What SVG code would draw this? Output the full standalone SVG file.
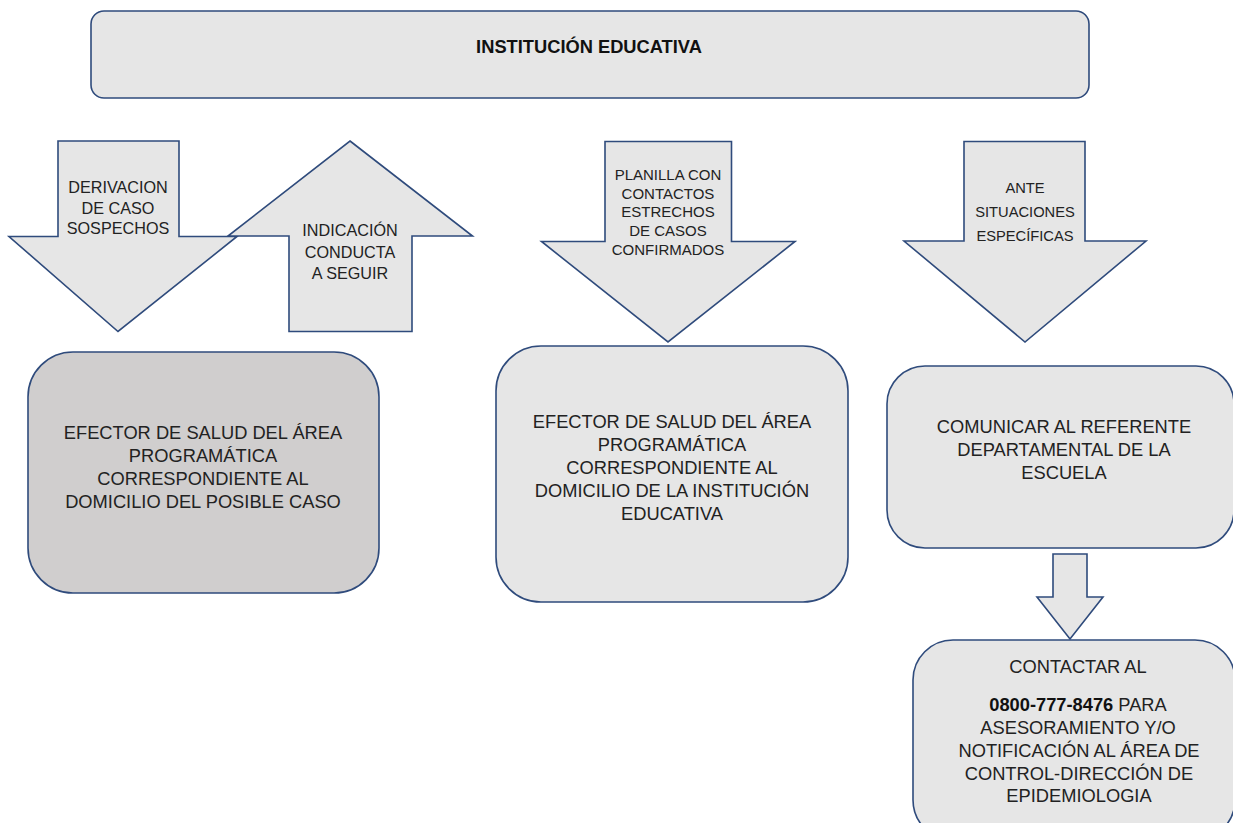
<svg xmlns="http://www.w3.org/2000/svg" width="1233" height="823" viewBox="0 0 1233 823">
<style>
.shape{fill:#e6e6e6;stroke:#2f4b7c;stroke-width:1.6;stroke-linejoin:miter}
.dark{fill:#d0cece}
text{font-family:"Liberation Sans",Arial,sans-serif;fill:#222;text-anchor:middle}
.t18{font-size:18.3px}
.t16{font-size:16.2px}
.t15{font-size:15px}
.t14{font-size:14.7px}
.b{font-weight:bold;fill:#111}
</style>
<rect width="1233" height="823" fill="#fff"/>
<g id="institucion">
<rect class="shape" x="91" y="11" width="998" height="87" rx="13"/>
<text class="t18 b" x="589" y="53">INSTITUCIÓN EDUCATIVA</text>
</g>
<g id="connectors">
<g id="arrow-derivacion">
<polygon class="shape" points="58,141 179,141 179,236.5 237,236.5 118,331.5 9,236.5 58,236.5"/>
<text class="t16" x="118" y="193">DERIVACION</text>
<text class="t16" x="118" y="213.5">DE CASO</text>
<text class="t16" x="118" y="234">SOSPECHOS</text>
</g>
<g id="arrow-indicacion">
<polygon class="shape" points="350,141 472.5,236 412,236 412,331.5 289,331.5 289,236 228,236"/>
<text class="t16" x="350" y="236">INDICACIÓN</text>
<text class="t16" x="350" y="257.5">CONDUCTA</text>
<text class="t16" x="350" y="279">A SEGUIR</text>
</g>
<g id="arrow-planilla">
<polygon class="shape" points="605,141.5 731.5,141.5 731.5,241.5 795,241.5 668,342 541.5,241.5 605,241.5"/>
<text class="t15" x="668" y="180">PLANILLA CON</text>
<text class="t15" x="668" y="198.5">CONTACTOS</text>
<text class="t15" x="668" y="217">ESTRECHOS</text>
<text class="t15" x="668" y="236">DE CASOS</text>
<text class="t15" x="668" y="254.5">CONFIRMADOS</text>
</g>
<g id="arrow-situaciones">
<polygon class="shape" points="964,141.5 1085,141.5 1085,241 1146,241 1025,342 904,241 964,241"/>
<text class="t14" x="1025" y="193">ANTE</text>
<text class="t14" x="1025" y="217">SITUACIONES</text>
<text class="t14" x="1025" y="241">ESPECÍFICAS</text>
</g>
<g id="arrow-contactar">
<polygon class="shape" points="1053,554 1087,554 1087,597 1103,597 1070,639 1037,597 1053,597"/>
</g>
</g>
<g id="efector-posible-caso">
<rect class="shape dark" x="28" y="352" width="351" height="241" rx="45"/>
<text class="t18" x="203" y="439">EFECTOR DE SALUD DEL ÁREA</text>
<text class="t18" x="203" y="462">PROGRAMÁTICA</text>
<text class="t18" x="203" y="485">CORRESPONDIENTE AL</text>
<text class="t18" x="203" y="508">DOMICILIO DEL POSIBLE CASO</text>
</g>
<g id="efector-institucion">
<rect class="shape" x="496" y="346" width="352" height="256" rx="45"/>
<text class="t18" x="672" y="428">EFECTOR DE SALUD DEL ÁREA</text>
<text class="t18" x="672" y="451">PROGRAMÁTICA</text>
<text class="t18" x="672" y="474">CORRESPONDIENTE AL</text>
<text class="t18" x="672" y="497">DOMICILIO DE LA INSTITUCIÓN</text>
<text class="t18" x="672" y="520">EDUCATIVA</text>
</g>
<g id="comunicar-referente">
<rect class="shape" x="887" y="366" width="347" height="182" rx="38"/>
<text class="t18" x="1064" y="433">COMUNICAR AL REFERENTE</text>
<text class="t18" x="1064" y="456">DEPARTAMENTAL DE LA</text>
<text class="t18" x="1064" y="479">ESCUELA</text>
</g>
<g id="contactar">
<rect class="shape" x="913" y="640" width="322" height="200" rx="40"/>
<text class="t18" x="1078" y="673">CONTACTAR AL</text>
<text class="t18" x="1078" y="711"><tspan class="b">0800-777-8476</tspan> PARA</text>
<text class="t18" x="1078" y="734">ASESORAMIENTO Y/O</text>
<text class="t18" x="1079" y="757">NOTIFICACIÓN AL ÁREA DE</text>
<text class="t18" x="1079" y="780">CONTROL-DIRECCIÓN DE</text>
<text class="t18" x="1079" y="802">EPIDEMIOLOGIA</text>
</g>
</svg>
